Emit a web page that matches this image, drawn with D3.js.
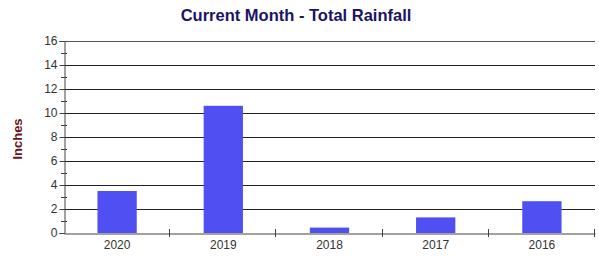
<!DOCTYPE html>
<html>
<head>
<meta charset="utf-8">
<script src="https://cdn.jsdelivr.net/npm/d3@7"></script>
<style>
  body { margin: 0; background: #fff; }
  text { font-family: Arial, "Liberation Sans", sans-serif; }
</style>
</head>
<body>
<script>
// chart data
const years = ["2020", "2019", "2018", "2017", "2016"];
const rainfall = [3.5, 10.6, 0.45, 1.3, 2.65];
const yTicks = [0, 2, 4, 6, 8, 10, 12, 14, 16];

const width = 599;
const height = 256;
const margin = {top: 41, right: 4, bottom: 23, left: 64};

const svg = d3.select("body")
    .append("svg")
    .attr("width", width)
    .attr("height", height);

const x = d3.scaleBand()
    .domain(years)
    .range([margin.left, width - margin.right]);

const y = d3.scaleLinear()
    .domain([0, 16])
    .range([height - margin.bottom, margin.top]);

// gridlines
svg.append("g")
    .selectAll("line")
    .data(yTicks.filter(d => d > 0))
    .join("line")
    .attr("x1", margin.left)
    .attr("x2", width - margin.right)
    .attr("y1", d => Math.round(y(d)) + 0.5)
    .attr("y2", d => Math.round(y(d)) + 0.5)
    .attr("stroke", d => d == 16 ? "#555" : "#222")
    .attr("stroke-width", 1);

// bars
const bw = x.bandwidth() * 0.37;
svg.append("g")
    .selectAll("rect")
    .data(years)
    .join("rect")
    .attr("x", (d) => x(d) + x.bandwidth() / 2 - bw / 2)
    .attr("width", bw)
    .attr("y", (d, i) => y(rainfall[i]))
    .attr("height", (d, i) => y(0) - y(rainfall[i]))
    .attr("fill", "#5050f2");

// y axis
const yAxis = svg.append("g")
    .attr("transform", `translate(${margin.left + 0.5},0)`)
    .call(d3.axisLeft(y).tickValues(yTicks).tickSize(5).tickPadding(2).tickFormat(d3.format("d")));
yAxis.select(".domain").attr("stroke", "#444");
yAxis.selectAll(".tick line").attr("stroke", "#444");
yAxis.selectAll("text").attr("font-size", 12).attr("fill", "#333");

// minor ticks
svg.append("g")
    .selectAll("line")
    .data(d3.range(1, 16, 2))
    .join("line")
    .attr("x1", margin.left - 3)
    .attr("x2", margin.left + 3)
    .attr("y1", d => Math.round(y(d)) + 0.5)
    .attr("y2", d => Math.round(y(d)) + 0.5)
    .attr("stroke", "#444");

// x axis
const xAxis = svg.append("g")
    .attr("transform", `translate(0,${Math.round(y(0)) + 0.5})`)
    .call(d3.axisBottom(x).tickSize(0).tickPadding(7));
xAxis.select(".domain").attr("stroke", "#444");
xAxis.selectAll("text").attr("font-size", 12).attr("fill", "#333");

// category separators
svg.append("g")
    .selectAll("line")
    .data(years.slice(1).concat(["end"]))
    .join("line")
    .attr("x1", (d, i) => Math.round(i < years.length - 1 ? x(d) : x.range()[1]) - 0.5)
    .attr("x2", (d, i) => Math.round(i < years.length - 1 ? x(d) : x.range()[1]) - 0.5)
    .attr("y1", y(0) - 4)
    .attr("y2", y(0) + 4)
    .attr("stroke", "#444");

// title
svg.append("text")
    .attr("x", 296)
    .attr("y", 21)
    .attr("text-anchor", "middle")
    .attr("font-size", 16.5)
    .attr("font-weight", "bold")
    .attr("fill", "#1a1464")
    .text("Current Month - Total Rainfall");

// y label
svg.append("text")
    .attr("transform", "translate(22,139) rotate(-90)")
    .attr("text-anchor", "middle")
    .attr("font-size", 13)
    .attr("font-weight", "bold")
    .attr("fill", "#6b1420")
    .text("Inches");
</script>
</body>
</html>
